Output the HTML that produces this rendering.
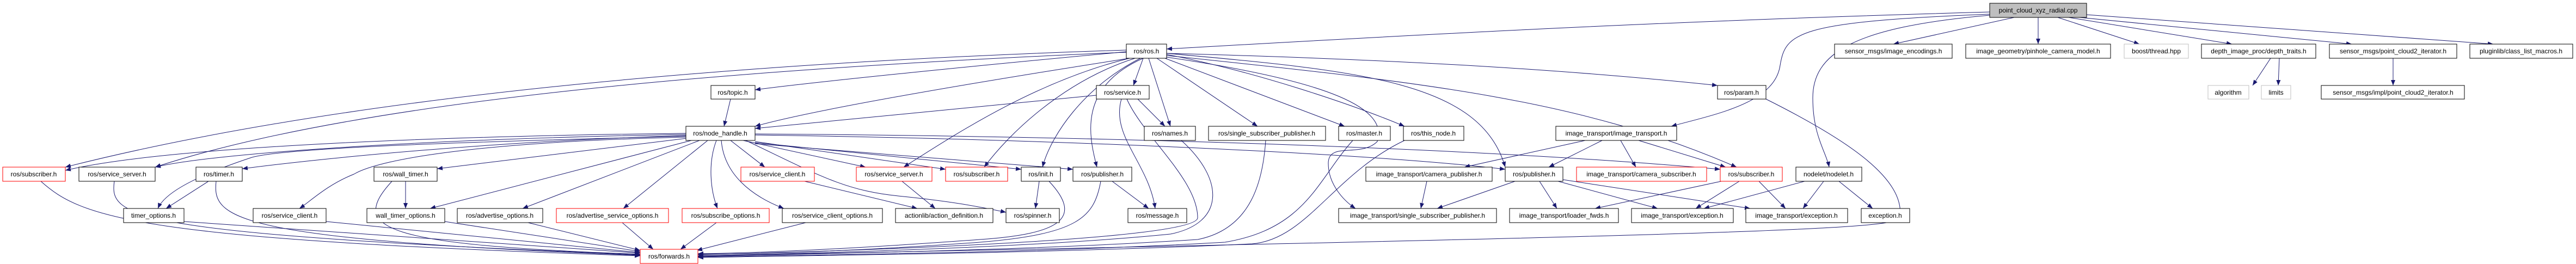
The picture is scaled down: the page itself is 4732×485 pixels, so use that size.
<!DOCTYPE html>
<html><head><meta charset="utf-8"><style>
html,body{margin:0;padding:0;background:#fff;}
svg{display:block;}
text{font-family:"Liberation Sans",sans-serif;font-size:12px;fill:#000;}
</style></head><body>
<svg width="4732" height="485" viewBox="0 0 4732 485" xmlns="http://www.w3.org/2000/svg">
<defs>
<marker id="a" markerWidth="10" markerHeight="8" refX="10" refY="4" orient="auto" markerUnits="userSpaceOnUse">
<path d="M0,0 L10,4 L0,8 z" fill="#191970"/></marker>
</defs>
<g fill="none" stroke="#191970" stroke-width="1" marker-end="url(#a)">
<!-- cpp -->
<path d="M3655 22 C3000 40,2500 70,2143 90"/>
<path d="M3700 32 L3478 81"/>
<path d="M3744 32 L3744 81"/>
<path d="M3780 32 L3930 81"/>
<path d="M3800 32 L4100 81"/>
<path d="M3820 32 L4320 81"/>
<path d="M3833 27 L4580 81"/>
<path d="M3655 26 C3300 40,3280 60,3270 120 C3260 190,3150 210,3070 232"/>
<path d="M3655 28 C3400 50,3330 100,3330 180 C3330 250,3355 280,3360 307"/>
<!-- param -->
<path d="M3244 182 C3400 260,3500 330,3490 400 C3480 420,3300 430,1282 470"/>
<!-- ros.h -->
<path d="M2069 95 C1800 120,1500 150,1387 165"/>
<path d="M2075 107 C1800 150,1500 200,1387 232"/>
<path d="M2100 107 L2082 157"/>
<path d="M2110 107 L2150 232"/>
<path d="M2125 107 L2310 232"/>
<path d="M2140 107 L2470 232"/>
<path d="M2143 100 C2300 130,2480 190,2580 232"/>
<path d="M2143 98 C2600 110,2900 130,3155 157"/>
<path d="M2069 92 C1500 110,700 160,120 307"/>
<path d="M2069 96 C1500 120,700 170,285 307"/>
<path d="M2075 107 C1900 150,1750 250,1660 307"/>
<path d="M2085 107 C1950 150,1850 250,1808 307"/>
<path d="M2095 107 C1990 160,1930 250,1915 307"/>
<path d="M2100 107 C1980 160,2000 250,2015 307"/>
<path d="M2143 98 C2500 130,2720 150,2765 307"/>
<path d="M2143 102 C2600 150,2900 180,3190 307"/>
<path d="M2143 105 C2450 150,2550 200,2530 260 C2500 290,2440 260,2440 300 C2440 340,2470 370,2490 383"/>
<!-- service.h -->
<path d="M2060 182 C2040 250,2110 300,2122 383"/>
<path d="M2070 182 C2100 250,2200 330,2200 400 C2200 440,1600 460,1282 468"/>
<path d="M2090 182 L2140 232"/>
<path d="M2014 175 L1387 236"/>
<path d="M1342 182 L1330 232"/>
<!-- row3 to forwards -->
<path d="M2170 258 C2250 330,2250 410,2150 430 C1900 455,1500 465,1282 470"/>
<path d="M2325 258 C2320 330,2300 420,2200 440 C1900 460,1500 466,1282 471"/>
<path d="M2485 258 C2420 330,2400 420,2250 445 C1900 465,1500 468,1282 472"/>
<path d="M2580 258 C2450 320,2400 440,2300 448 C1900 466,1500 469,1282 473"/>
<!-- node_handle -->
<path d="M1260 245 C800 250,300 270,120 313"/>
<path d="M1260 247 C800 255,400 280,285 307"/>
<path d="M1260 249 C900 260,600 290,445 310"/>
<path d="M1260 250 C900 260,520 270,460 290 C340 330,300 360,290 383"/>
<path d="M1262 252 C900 260,700 290,650 320 C600 340,570 370,550 383"/>
<path d="M1262 254 L803 310"/>
<path d="M1270 258 L790 383"/>
<path d="M1285 258 L960 383"/>
<path d="M1300 258 L1145 383"/>
<path d="M1316 258 C1300 300,1305 350,1318 383"/>
<path d="M1325 258 C1330 320,1380 360,1440 383"/>
<path d="M1342 258 L1405 307"/>
<path d="M1365 258 L1590 307"/>
<path d="M1387 260 L1737 311"/>
<path d="M1387 262 L1876 311"/>
<path d="M1387 264 L1971 311"/>
<path d="M1370 258 C1500 320,1550 350,1650 360 C1750 370,1800 380,1848 390"/>
<path d="M1387 248 C1900 255,2500 280,2765 311"/>
<path d="M1387 246 C2000 250,2700 270,3160 311"/>
<!-- row4 left -->
<path d="M75 333 C150 400,250 440,1176 470"/>
<path d="M210 333 C200 400,240 430,1176 468"/>
<path d="M383 333 L305 383"/>
<path d="M397 333 C390 400,420 440,1176 469"/>
<path d="M745 333 L745 383"/>
<path d="M720 333 C640 420,700 450,1176 467"/>
<path d="M338 407 L1176 465"/>
<path d="M599 407 L1176 464"/>
<path d="M817 407 L1176 462"/>
<path d="M970 409 L1176 460"/>
<path d="M1143 409 L1200 458"/>
<path d="M1316 409 L1250 458"/>
<path d="M1480 409 L1280 460"/>
<path d="M1478 333 L1685 383"/>
<path d="M1657 333 L1718 383"/>
<path d="M1909 333 L1902 383"/>
<path d="M1927 333 C1990 400,1950 430,1800 440 C1600 455,1400 465,1282 466"/>
<path d="M2043 333 L2110 383"/>
<path d="M2022 333 C2010 400,1980 430,1800 445 C1600 460,1400 467,1282 467"/>
<!-- right side -->
<path d="M2912 258 L2690 307"/>
<path d="M2943 258 L2845 307"/>
<path d="M2977 258 L3005 307"/>
<path d="M3010 258 L3170 307"/>
<path d="M2621 333 L2610 383"/>
<path d="M2783 333 L2640 383"/>
<path d="M2828 333 L2860 383"/>
<path d="M2862 333 L3045 383"/>
<path d="M2871 330 L3215 383"/>
<path d="M3162 333 L2930 383"/>
<path d="M3195 333 L3115 383"/>
<path d="M3231 333 L3280 383"/>
<path d="M3315 333 L3130 383"/>
<path d="M3350 333 L3312 383"/>
<path d="M3378 333 L3440 383"/>
<path d="M4171 107 L4138 157"/>
<path d="M4187 107 L4185 157"/>
<path d="M4396 107 L4396 157"/>
</g>
<g stroke-width="1">
<!-- helper: rect + text -->
<rect x="3655" y="6" width="178" height="26" fill="#bfbfbf" stroke="#000"/><text x="3744" y="23" text-anchor="middle">point_cloud_xyz_radial.cpp</text>
<g fill="#fff" stroke="#000">
<rect x="2069" y="81" width="74" height="26"/>
<rect x="3370" y="81" width="216" height="26"/>
<rect x="3611" y="81" width="266" height="26"/>
<rect x="4044" y="81" width="210" height="26"/>
<rect x="4279" y="81" width="234" height="26"/>
<rect x="4537" y="81" width="189" height="26"/>
<rect x="1306" y="157" width="81" height="25"/>
<rect x="2014" y="157" width="97" height="25"/>
<rect x="3155" y="157" width="89" height="25"/>
<rect x="4264" y="157" width="263" height="25"/>
<rect x="1260" y="232" width="127" height="26"/>
<rect x="2102" y="232" width="94" height="26"/>
<rect x="2220" y="232" width="215" height="26"/>
<rect x="2459" y="232" width="95" height="26"/>
<rect x="2578" y="232" width="111" height="26"/>
<rect x="2858" y="232" width="222" height="26"/>
<rect x="145" y="307" width="140" height="26"/>
<rect x="360" y="307" width="85" height="26"/>
<rect x="687" y="307" width="116" height="26"/>
<rect x="1876" y="307" width="72" height="26"/>
<rect x="1971" y="307" width="108" height="26"/>
<rect x="2509" y="307" width="232" height="26"/>
<rect x="2765" y="307" width="106" height="26"/>
<rect x="3299" y="307" width="121" height="26"/>
<rect x="227" y="383" width="111" height="26"/>
<rect x="465" y="383" width="134" height="26"/>
<rect x="674" y="383" width="143" height="26"/>
<rect x="840" y="383" width="157" height="26"/>
<rect x="1437" y="383" width="184" height="26"/>
<rect x="1645" y="383" width="179" height="26"/>
<rect x="1848" y="383" width="98" height="26"/>
<rect x="2072" y="383" width="108" height="26"/>
<rect x="2459" y="383" width="290" height="26"/>
<rect x="2773" y="383" width="200" height="26"/>
<rect x="2997" y="383" width="187" height="26"/>
<rect x="3207" y="383" width="187" height="26"/>
<rect x="3419" y="383" width="89" height="26"/>
</g>
<g fill="#fff" stroke="#ff0000">
<rect x="5" y="307" width="115" height="26"/>
<rect x="1361" y="307" width="135" height="26"/>
<rect x="1573" y="307" width="139" height="26"/>
<rect x="1737" y="307" width="114" height="26"/>
<rect x="2896" y="307" width="239" height="26"/>
<rect x="3160" y="307" width="114" height="26"/>
<rect x="1022" y="383" width="206" height="26"/>
<rect x="1253" y="383" width="160" height="26"/>
<rect x="1176" y="458" width="106" height="26"/>
</g>
<g fill="#fff" stroke="#bfbfbf">
<rect x="3902" y="81" width="118" height="26"/>
<rect x="4056" y="157" width="75" height="25"/>
<rect x="4154" y="157" width="54" height="25"/>
</g>
</g>
<g text-anchor="middle">
<text x="2106" y="98">ros/ros.h</text>
<text x="3478" y="98">sensor_msgs/image_encodings.h</text>
<text x="3744" y="98">image_geometry/pinhole_camera_model.h</text>
<text x="3961" y="98">boost/thread.hpp</text>
<text x="4149" y="98">depth_image_proc/depth_traits.h</text>
<text x="4396" y="98">sensor_msgs/point_cloud2_iterator.h</text>
<text x="4631" y="98">pluginlib/class_list_macros.h</text>
<text x="1346" y="174">ros/topic.h</text>
<text x="2062" y="174">ros/service.h</text>
<text x="3199" y="174">ros/param.h</text>
<text x="4093" y="174">algorithm</text>
<text x="4181" y="174">limits</text>
<text x="4396" y="174">sensor_msgs/impl/point_cloud2_iterator.h</text>
<text x="1323" y="249">ros/node_handle.h</text>
<text x="2149" y="249">ros/names.h</text>
<text x="2327" y="249">ros/single_subscriber_publisher.h</text>
<text x="2506" y="249">ros/master.h</text>
<text x="2633" y="249">ros/this_node.h</text>
<text x="2969" y="249">image_transport/image_transport.h</text>
<text x="62" y="324">ros/subscriber.h</text>
<text x="215" y="324">ros/service_server.h</text>
<text x="402" y="324">ros/timer.h</text>
<text x="745" y="324">ros/wall_timer.h</text>
<text x="1428" y="324">ros/service_client.h</text>
<text x="1642" y="324">ros/service_server.h</text>
<text x="1794" y="324">ros/subscriber.h</text>
<text x="1912" y="324">ros/init.h</text>
<text x="2025" y="324">ros/publisher.h</text>
<text x="2625" y="324">image_transport/camera_publisher.h</text>
<text x="2818" y="324">ros/publisher.h</text>
<text x="3015" y="324">image_transport/camera_subscriber.h</text>
<text x="3217" y="324">ros/subscriber.h</text>
<text x="3359" y="324">nodelet/nodelet.h</text>
<text x="282" y="400">timer_options.h</text>
<text x="532" y="400">ros/service_client.h</text>
<text x="745" y="400">wall_timer_options.h</text>
<text x="918" y="400">ros/advertise_options.h</text>
<text x="1125" y="400">ros/advertise_service_options.h</text>
<text x="1333" y="400">ros/subscribe_options.h</text>
<text x="1529" y="400">ros/service_client_options.h</text>
<text x="1734" y="400">actionlib/action_definition.h</text>
<text x="1897" y="400">ros/spinner.h</text>
<text x="2126" y="400">ros/message.h</text>
<text x="2604" y="400">image_transport/single_subscriber_publisher.h</text>
<text x="2873" y="400">image_transport/loader_fwds.h</text>
<text x="3090" y="400">image_transport/exception.h</text>
<text x="3300" y="400">image_transport/exception.h</text>
<text x="3463" y="400">exception.h</text>
<text x="1229" y="475">ros/forwards.h</text>
</g>
</svg>
</body></html>
